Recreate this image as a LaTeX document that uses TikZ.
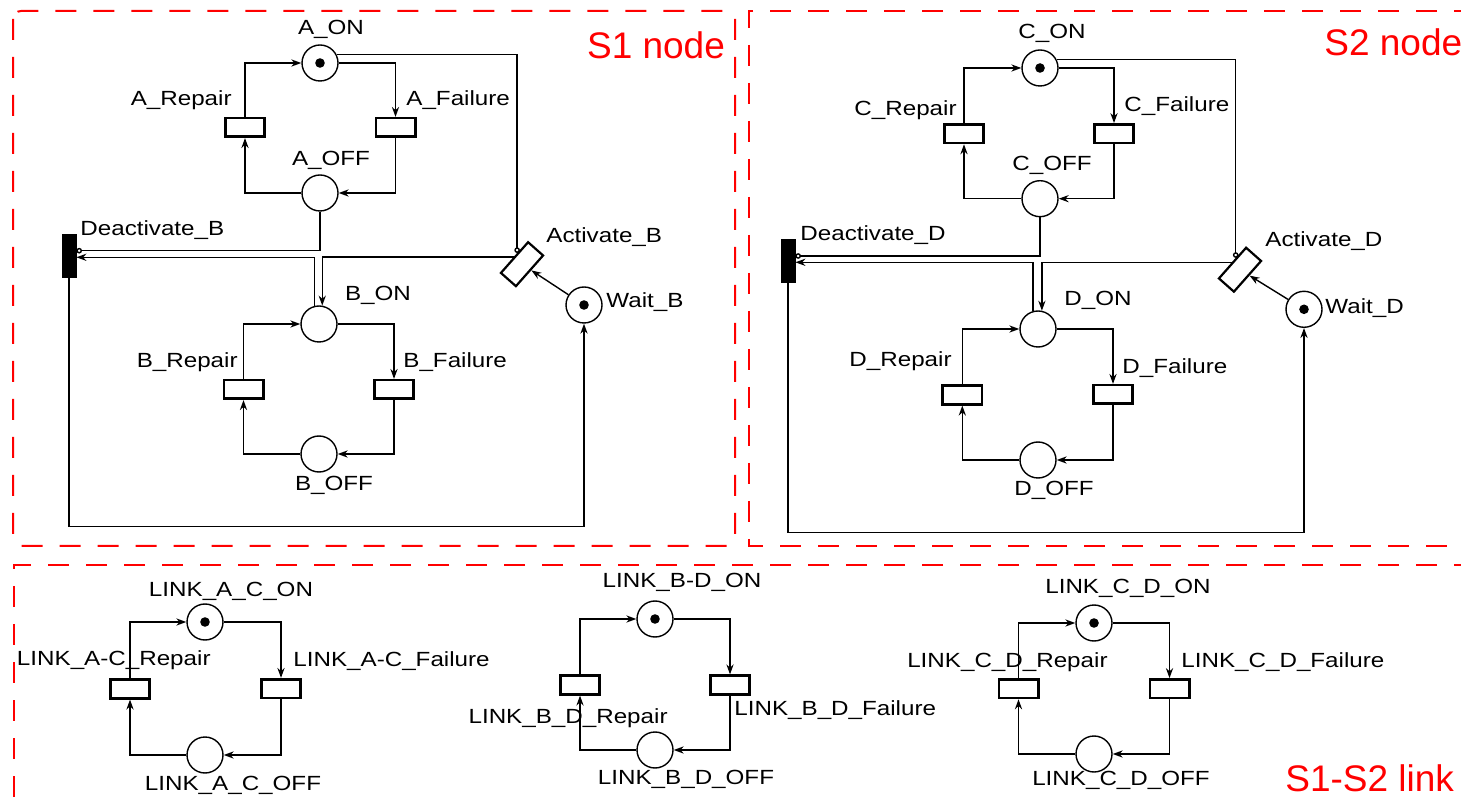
\documentclass[tikz,border=0pt]{standalone}
\usepackage{fontspec}
\setmainfont{Liberation Sans}[FakeStretch=1.18]
\newfontfamily\tagfam{Liberation Sans}
\usetikzlibrary{arrows.meta,calc}
\newcommand\lblfont{\fontsize{10.25pt}{12pt}\selectfont}
\newcommand\tagfont{\tagfam\fontsize{18.5pt}{22pt}\selectfont}
\newcommand\pntoken{}
\renewcommand\pntoken[1]{\fill (#1) circle[radius=2.4pt];}
\newcommand\netloop[4]{%
  \draw[arc] (#4.west) -| (#2.south);
  \draw[arc] (#2.north) |- (#1.west);
  \draw[arc] (#1.east) -| (#3.north);
  \draw[arc] (#3.south) |- (#4.east);
}
\tikzset{
  place/.style={circle, draw, line width=0.7pt, minimum size=18pt, inner sep=0pt},
  trans/.style={rectangle, draw, line width=1.3pt, minimum width=19.7pt, minimum height=9.3pt, inner sep=0pt},
  bartrans/.style={rectangle, fill=black, draw=black, minimum width=7pt, minimum height=21.5pt, inner sep=0pt},
  tilted/.style={rectangle, draw, line width=1.1pt, minimum width=20.5pt, minimum height=10pt, inner sep=0pt, rotate=48.5},
  arc/.style={line width=0.7pt, -{Stealth[length=5pt,width=3.6pt]}},
  inhib/.style={line width=0.7pt, -{Circle[open,length=2.8pt]}},
  lbl/.style={inner sep=0pt, font=\lblfont},
  frame/.style={red, line width=1pt, dash pattern=on 10.5pt off 8.5pt},
  tag/.style={inner sep=0pt, text=red, font=\tagfont},
}
\begin{document}
\begin{tikzpicture}[x=0.5pt,y=-0.5pt]
\useasboundingbox (0,0) rectangle (1461,806);

% frames
\draw[frame, rounded corners=4pt] (13,11) rectangle (735,546);
\draw[frame] (1475,11) -- (749,11) -- (749,546) -- (1475,546);
\draw[frame] (1475,565) -- (14,565) -- (14,815);
\node[tag] (s1tag) at (656,45) {S1 node};
\node[tag, anchor=west] (s2tag) at (1324,42) {S2 node};
\node[tag, anchor=west] (lktag) at (1285,778) {S1-S2 link};

% ---------- S1 ----------
\node[place] (aon) at (320,63) {};
\node[trans] (arep) at (245,127.5) {};
\node[trans] (afail) at (395.5,127.5) {};
\node[place] (aoff) at (320,193) {};
\node[bartrans] (deb) at (69,255.7) {};
\node[tilted] (actb) at (522,264.2) {};
\node[place] (wb) at (584,305) {};
\node[place] (bon) at (319,324) {};
\node[trans] (brep) at (243.5,389.5) {};
\node[trans] (bfail) at (394,389.5) {};
\node[place] (boff) at (319,454) {};
\pntoken{aon}\pntoken{wb}

\node[lbl] (laon) at (331,29) {A\_ON};
\node[lbl, anchor=east] (larep) at (232,100) {A\_Repair};
\node[lbl, anchor=west] (lafail) at (406,100) {A\_Failure};
\node[lbl] (laoff) at (331,160) {A\_OFF};
\node[lbl, anchor=west] (ldeb) at (80,230) {Deactivate\_B};
\node[lbl, anchor=west] (lactb) at (546,237) {Activate\_B};
\node[lbl] (lbon) at (378,295) {B\_ON};
\node[lbl, anchor=east] (lbrep) at (238,362) {B\_Repair};
\node[lbl, anchor=west] (lbfail) at (403,362) {B\_Failure};
\node[lbl] (lboff) at (334,485) {B\_OFF};
\node[lbl, anchor=west] (lwb) at (606,302) {Wait\_B};

\netloop{aon}{arep}{afail}{aoff}
\netloop{bon}{brep}{bfail}{boff}
\coordinate (inhB) at ($(actb.north west)!0.62!(actb.north east)$);
\draw[inhib] (aon.26) -| (inhB);
\draw[inhib] (aoff.south) |- ([yshift=2.5pt]deb.east);
\draw[arc] (bon.103) |- ([yshift=-0.8pt]deb.east);
\draw[arc] (actb.north) -| (bon.80);
\draw[arc] (wb) -- (actb);
\coordinate (loopB) at (0,526.7);
\draw[arc] (deb.south) -- (deb.south |- loopB) -| (wb.south);

% ---------- S2 ----------
\node[place] (con) at (1040,68) {};
\node[trans] (crep) at (964,133.7) {};
\node[trans] (cfail) at (1114,133.7) {};
\node[place] (coff) at (1040,198.7) {};
\node[bartrans] (ded) at (788,261) {};
\node[tilted] (actd) at (1240,269.7) {};
\node[place] (wd) at (1304,309.3) {};
\node[place] (don) at (1038,329) {};
\node[trans] (drep) at (962.3,395) {};
\node[trans] (dfail) at (1113,394.5) {};
\node[place] (doff) at (1038,460) {};
\pntoken{con}\pntoken{wd}

\node[lbl] (lcon) at (1052,33) {C\_ON};
\node[lbl, anchor=east] (lcrep) at (957,110) {C\_Repair};
\node[lbl, anchor=west] (lcfail) at (1124,106) {C\_Failure};
\node[lbl] (lcoff) at (1052,165) {C\_OFF};
\node[lbl, anchor=west] (lded) at (800,235) {Deactivate\_D};
\node[lbl, anchor=west] (lactd) at (1265,241) {Activate\_D};
\node[lbl] (ldon) at (1098,300) {D\_ON};
\node[lbl, anchor=east] (ldrep) at (952,361) {D\_Repair};
\node[lbl, anchor=west] (ldfail) at (1122,368) {D\_Failure};
\node[lbl] (ldoff) at (1054,490) {D\_OFF};
\node[lbl, anchor=west] (lwd) at (1325,308) {Wait\_D};

\netloop{con}{crep}{cfail}{coff}
\netloop{don}{drep}{dfail}{doff}
\coordinate (inhD) at ($(actd.north west)!0.64!(actd.north east)$);
\draw[inhib] (con.26) -| (inhD);
\draw[inhib] (coff.south) |- ([yshift=2.5pt]ded.east);
\draw[arc] (don.105) |- ([yshift=-0.65pt]ded.east);
\draw[arc] (actd.north) -| (don.78);
\draw[arc] (wd) -- (actd);
\coordinate (loopD) at (0,532.7);
\draw[arc] (ded.south) -- (ded.south |- loopD) -| (wd.south);

% ---------- links ----------
\node[place] (acon) at (205,622) {};
\node[trans] (acrep) at (130,689) {};
\node[trans] (acfail) at (281,688.5) {};
\node[place] (acoff) at (205,755) {};
\node[place] (bdon) at (655,619) {};
\node[trans] (bdrep) at (580,685) {};
\node[trans] (bdfail) at (730,685) {};
\node[place] (bdoff) at (655,750) {};
\node[place] (cdon) at (1094,623) {};
\node[trans] (cdrep) at (1018.5,688.7) {};
\node[trans] (cdfail) at (1169.5,688.7) {};
\node[place] (cdoff) at (1094,754) {};
\pntoken{acon}\pntoken{bdon}\pntoken{cdon}

\node[lbl] (lacon) at (231,591) {LINK\_A\_C\_ON};
\node[lbl, anchor=east] (lacrep) at (211,660) {LINK\_A-C\_Repair};
\node[lbl, anchor=west] (lacfail) at (293,661) {LINK\_A-C\_Failure};
\node[lbl] (lacoff) at (233,785) {LINK\_A\_C\_OFF};
\node[lbl] (lbdon) at (682,582) {LINK\_B-D\_ON};
\node[lbl, anchor=east] (lbdrep) at (668,718) {LINK\_B\_D\_Repair};
\node[lbl, anchor=west] (lbdfail) at (734,710) {LINK\_B\_D\_Failure};
\node[lbl] (lbdoff) at (686,779) {LINK\_B\_D\_OFF};
\node[lbl] (lcdon) at (1128,588) {LINK\_C\_D\_ON};
\node[lbl, anchor=east] (lcdrep) at (1108,662) {LINK\_C\_D\_Repair};
\node[lbl, anchor=west] (lcdfail) at (1181,662) {LINK\_C\_D\_Failure};
\node[lbl] (lcdoff) at (1121,780) {LINK\_C\_D\_OFF};

\netloop{acon}{acrep}{acfail}{acoff}
\netloop{bdon}{bdrep}{bdfail}{bdoff}
\netloop{cdon}{cdrep}{cdfail}{cdoff}
\end{tikzpicture}
\end{document}
